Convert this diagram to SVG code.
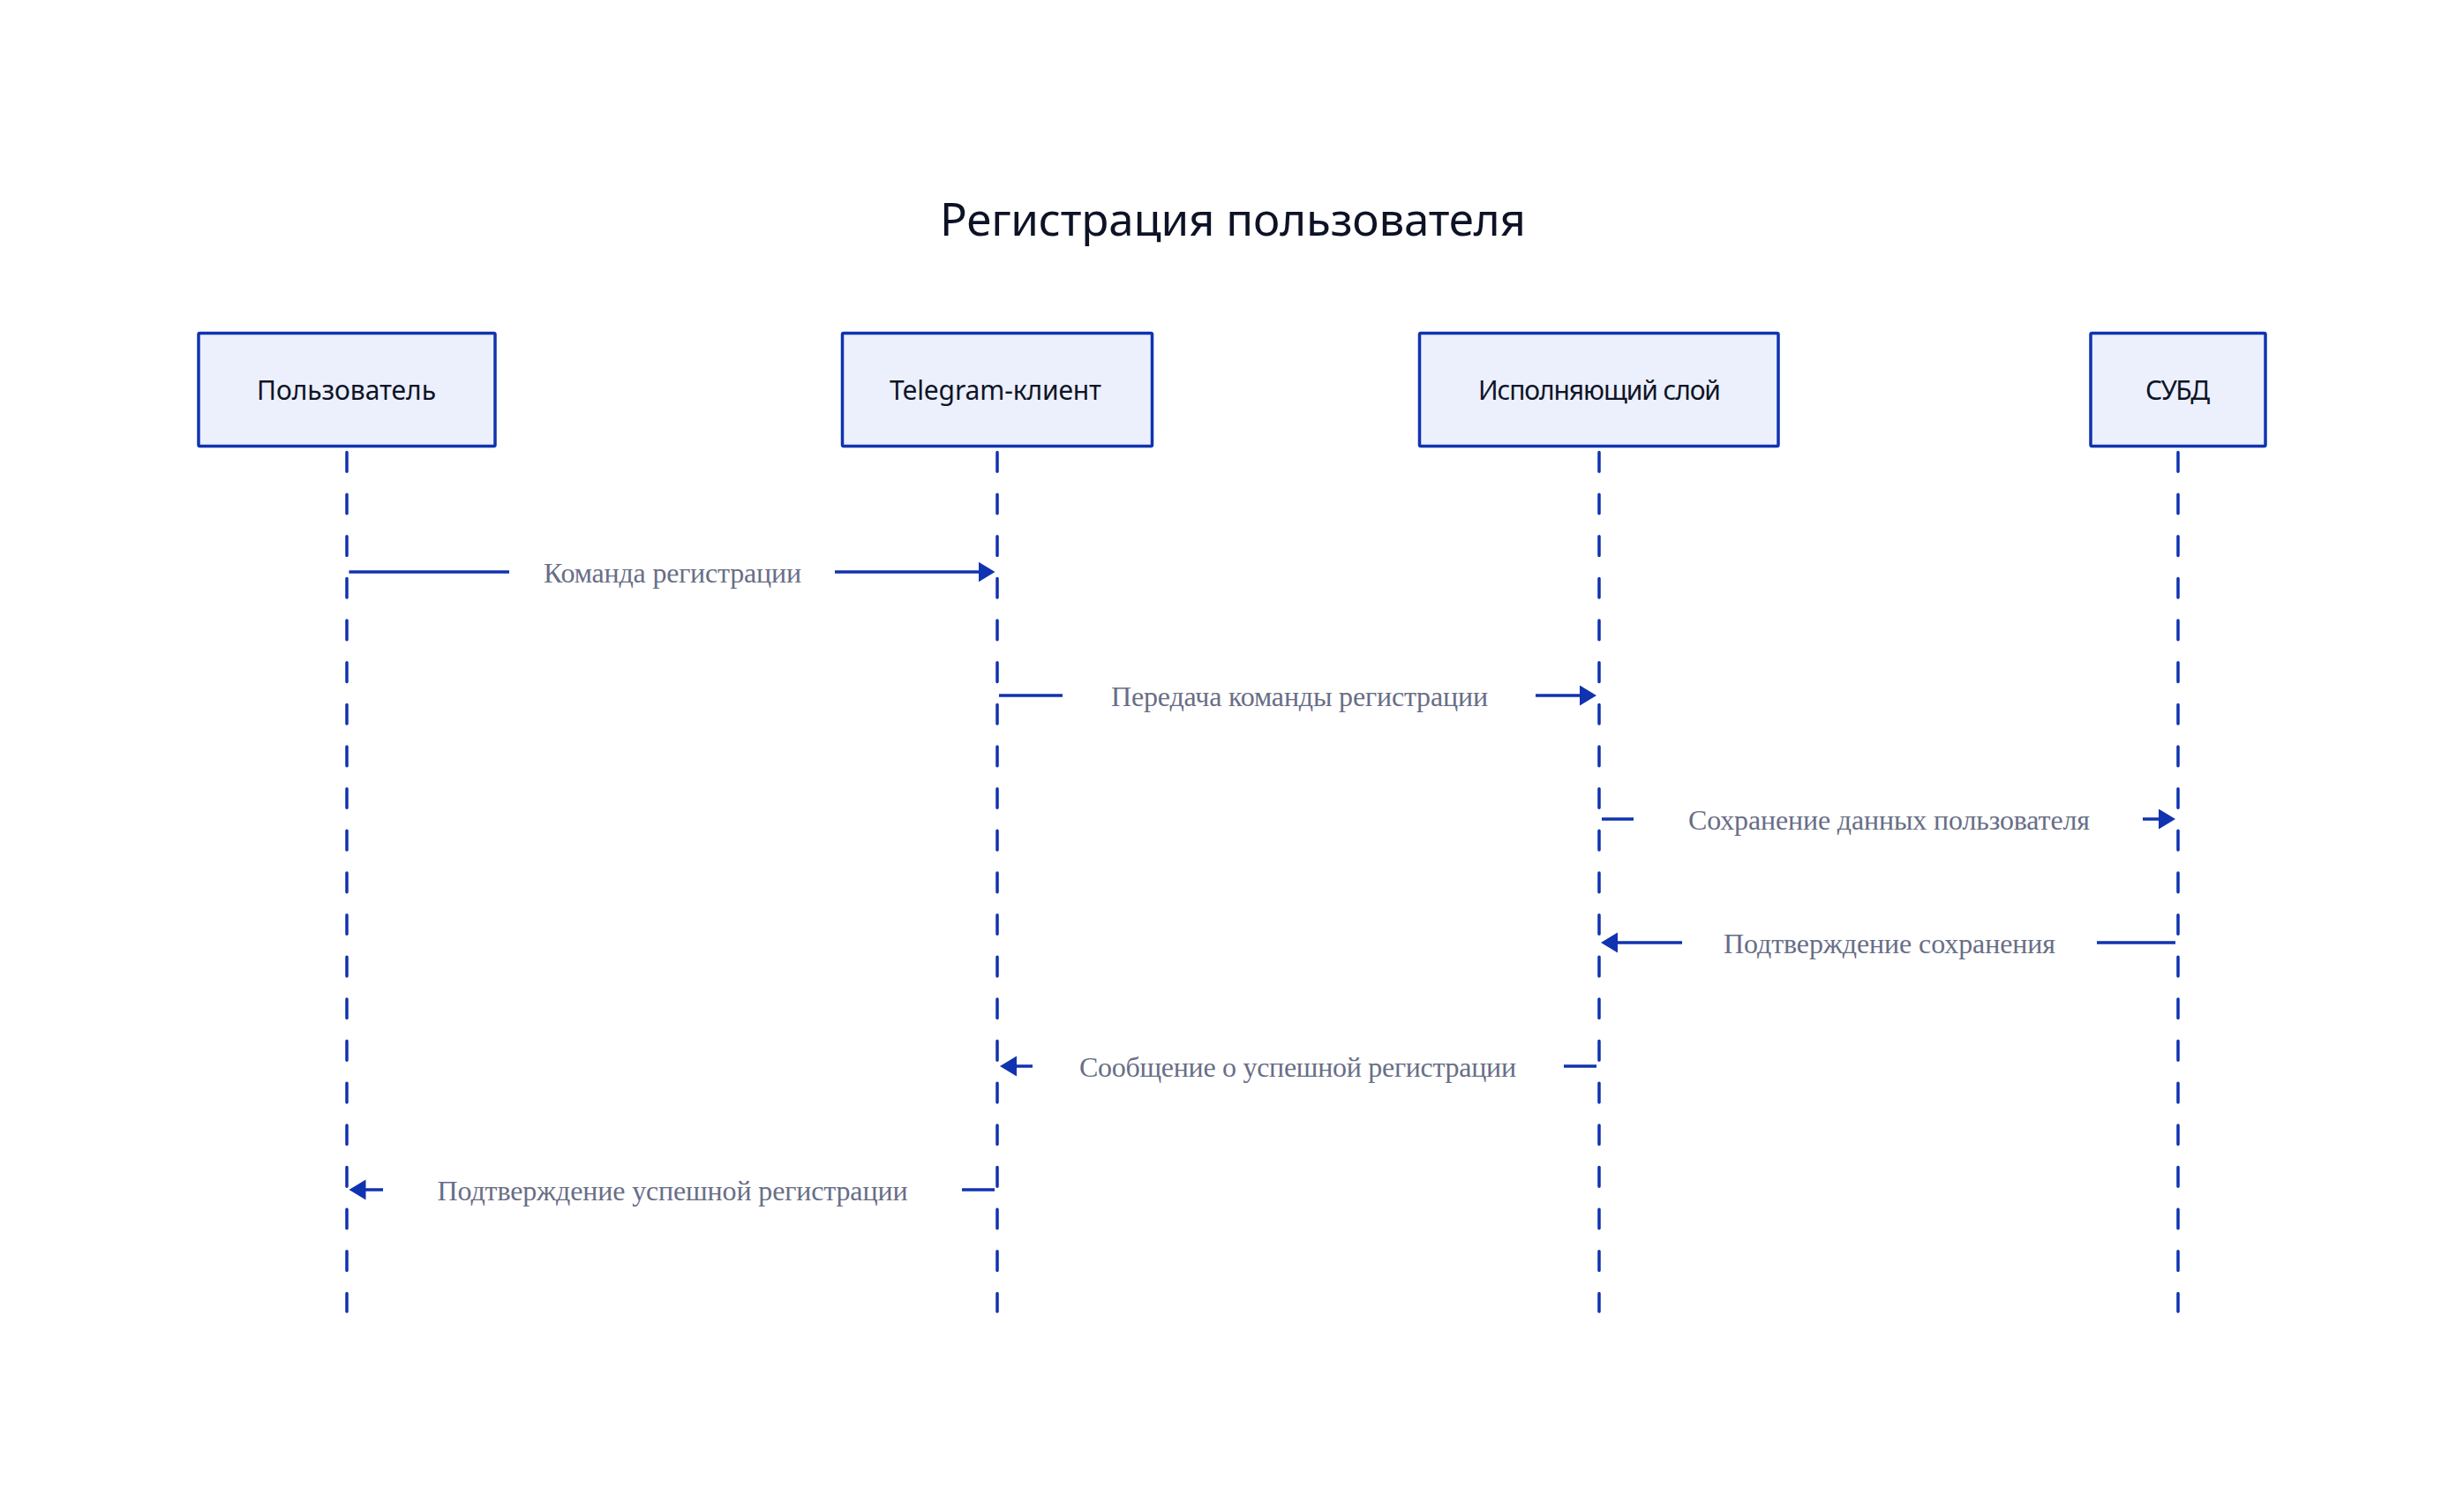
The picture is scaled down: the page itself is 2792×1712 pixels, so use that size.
<svg xmlns="http://www.w3.org/2000/svg" width="2792" height="1712" viewBox="0 0 2792 1712">
<style>
.bg{fill:#ffffff}
.box{fill:#ecf0fc;stroke:#1033b0;stroke-width:3.5}
.life{fill:none;stroke:#1033b0;stroke-width:3.5;stroke-dasharray:21.65 26;stroke-linecap:round}
.nlabel{font-family:"Noto Sans","Open Sans","DejaVu Sans",sans-serif;font-size:30px;fill:#0f1426;text-anchor:middle}
.title{font-family:"Noto Sans","Open Sans","DejaVu Sans",sans-serif;font-size:51px;fill:#0d1226;text-anchor:middle}
.msg{fill:none;stroke:#1033b0;stroke-width:3.5}
.mlabel{font-family:"Liberation Serif","Times New Roman",serif;font-size:32px;fill:#686e86;text-anchor:middle}
</style>
<defs>
<marker id="arrow" markerUnits="userSpaceOnUse" markerWidth="20" markerHeight="24" refX="13" refY="11.5" orient="auto">
<path d="M0,0 L19,11.5 L0,23 Z" fill="#1033b0"/>
</marker>
</defs>
<rect class="bg" x="0" y="0" width="2792" height="1712"/>
<text class="title" x="1397" y="267" textLength="664" lengthAdjust="spacing">Регистрация пользователя</text>

<g id="node-user">
<path class="life" d="M393 512.5 V1486"/>
<rect class="box" x="225" y="377.5" width="336" height="128" rx="1.5"/>
<text class="nlabel" x="392.5" y="453" textLength="203" lengthAdjust="spacing">Пользователь</text>
</g>
<g id="node-telegram">
<path class="life" d="M1130 512.5 V1486"/>
<rect class="box" x="954.5" y="377.5" width="351" height="128" rx="1.5"/>
<text class="nlabel" x="1128" y="453" textLength="240" lengthAdjust="spacing">Telegram-клиент</text>
</g>
<g id="node-exec">
<path class="life" d="M1812 512.5 V1486"/>
<rect class="box" x="1608.5" y="377.5" width="406.5" height="128" rx="1.5"/>
<text class="nlabel" x="1812.5" y="453" textLength="275" lengthAdjust="spacing">Исполняющий слой</text>
</g>
<g id="node-dbms">
<path class="life" d="M2468 512.5 V1486"/>
<rect class="box" x="2369" y="377.5" width="198" height="128" rx="1.5"/>
<text class="nlabel" x="2467.5" y="453" textLength="73" lengthAdjust="spacing">СУБД</text>
</g>

<g id="connectors">
<g id="msg1">
<path class="msg" d="M395.5 648 H577"/>
<path class="msg" d="M946 648 H1121.5" marker-end="url(#arrow)"/>
<text class="mlabel" x="762" y="660" textLength="292" lengthAdjust="spacing">Команда регистрации</text>
</g>
<g id="msg2">
<path class="msg" d="M1132 788 H1204"/>
<path class="msg" d="M1740 788 H1803" marker-end="url(#arrow)"/>
<text class="mlabel" x="1472.5" y="800" textLength="427" lengthAdjust="spacing">Передача команды регистрации</text>
</g>
<g id="msg3">
<path class="msg" d="M1815 928 H1851"/>
<path class="msg" d="M2428 928 H2459" marker-end="url(#arrow)"/>
<text class="mlabel" x="2140.5" y="940" textLength="455" lengthAdjust="spacing">Сохранение данных пользователя</text>
</g>
<g id="msg4">
<path class="msg" d="M2465 1068 H2376"/>
<path class="msg" d="M1906 1068 H1820" marker-end="url(#arrow)"/>
<text class="mlabel" x="2141" y="1080" textLength="376" lengthAdjust="spacing">Подтверждение сохранения</text>
</g>
<g id="msg5">
<path class="msg" d="M1809 1208 H1772"/>
<path class="msg" d="M1170 1208 H1139" marker-end="url(#arrow)"/>
<text class="mlabel" x="1470.5" y="1220" textLength="495" lengthAdjust="spacing">Сообщение о успешной регистрации</text>
</g>
<g id="msg6">
<path class="msg" d="M1127 1348 H1090"/>
<path class="msg" d="M434 1348 H401.5" marker-end="url(#arrow)"/>
<text class="mlabel" x="762" y="1360" textLength="533" lengthAdjust="spacing">Подтверждение успешной регистрации</text>
</g>
</g>
</svg>
